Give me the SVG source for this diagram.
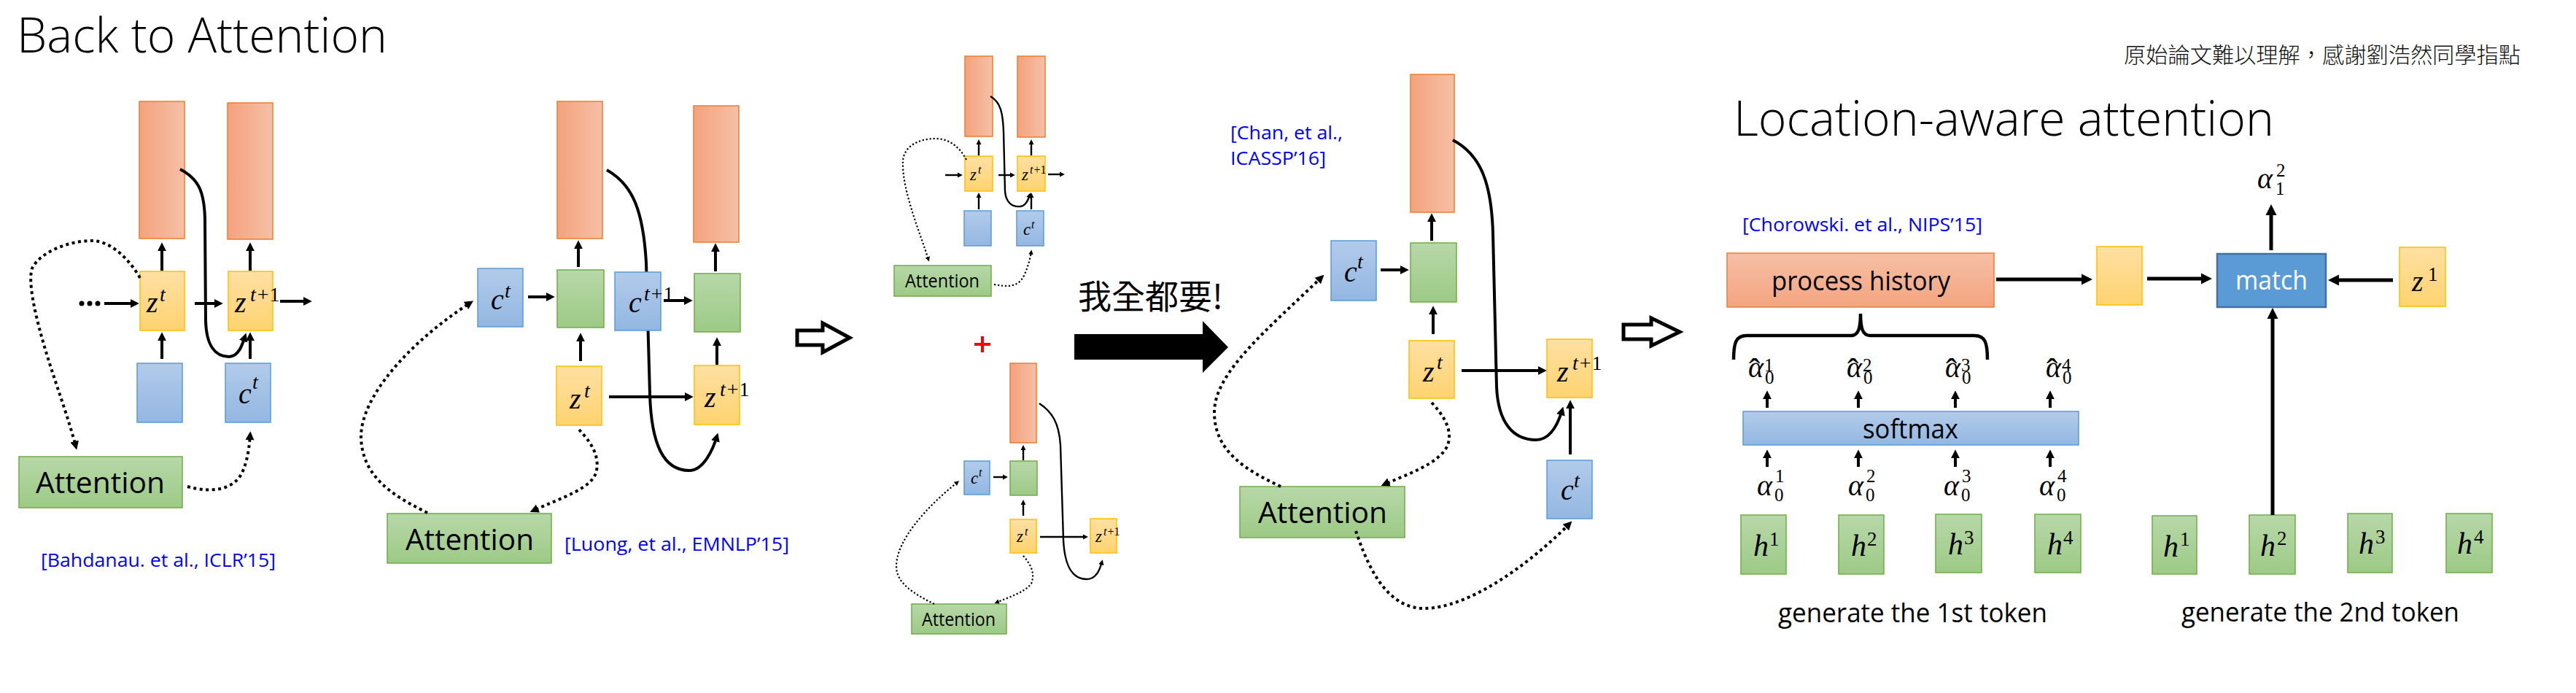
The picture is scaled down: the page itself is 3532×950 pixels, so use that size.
<svg xmlns="http://www.w3.org/2000/svg" width="3532" height="950" viewBox="0 0 3532 950">
<defs>
<linearGradient id="gOrH" x1="0" y1="0" x2="1" y2="0"><stop offset="0" stop-color="#F4A27E"/><stop offset="1" stop-color="#F6C0A6"/></linearGradient>
<linearGradient id="gOrV" x1="0" y1="0" x2="0" y2="1"><stop offset="0" stop-color="#F6C0A6"/><stop offset="1" stop-color="#F4A47F"/></linearGradient>
<linearGradient id="gY" x1="0" y1="0" x2="0" y2="1"><stop offset="0" stop-color="#FFE0A3"/><stop offset="1" stop-color="#FFD370"/></linearGradient>
<linearGradient id="gB" x1="0" y1="0" x2="0" y2="1"><stop offset="0" stop-color="#B2CBEA"/><stop offset="1" stop-color="#93B7E2"/></linearGradient>
<linearGradient id="gG" x1="0" y1="0" x2="0" y2="1"><stop offset="0" stop-color="#B7D8A8"/><stop offset="1" stop-color="#9DCA86"/></linearGradient>
<marker id="ah" viewBox="0 0 10 10" refX="6" refY="5" markerWidth="3" markerHeight="3.4" markerUnits="strokeWidth" orient="auto"><path d="M0,0 L10,5 L0,10 z" fill="#000"/></marker>
</defs>
<style>
.or{fill:url(#gOrH);stroke:#ED7D31;stroke-width:1.5}
.orv{fill:url(#gOrV);stroke:#ED7D31;stroke-width:1.5}
.ye{fill:url(#gY);stroke:#FFC000;stroke-width:1.5}
.bl{fill:url(#gB);stroke:#5B9BD5;stroke-width:1.5}
.gr{fill:url(#gG);stroke:#70AD47;stroke-width:1.5}
.ln{fill:none;stroke:#000;stroke-width:4;marker-end:url(#ah)}
.lnb{fill:none;stroke:#000;stroke-width:5;marker-end:url(#ah)}
.lns{fill:none;stroke:#000;stroke-width:2.4;marker-end:url(#ah)}
.dt{fill:none;stroke:#000;stroke-width:4;stroke-dasharray:4 4.5;marker-end:url(#ah)}
.dts{fill:none;stroke:#000;stroke-width:2.2;stroke-dasharray:2.2 2.8;marker-end:url(#ah)}
.cv{fill:none;stroke:#000;stroke-width:4;marker-end:url(#ah)}
.cvs{fill:none;stroke:#000;stroke-width:2.4;marker-end:url(#ah)}
.sans{font-family:'Open Sans','Noto Sans','Liberation Sans',sans-serif;fill:#000}
.cjk{font-family:'Noto Sans CJK TC','Noto Sans CJK SC','Noto Sans CJK JP',sans-serif;fill:#000}
.cite{font-family:'Open Sans','Noto Sans','Liberation Sans',sans-serif;fill:#0000FF;font-size:26px}
.mi{font-family:'Liberation Serif','DejaVu Serif',serif;font-style:italic;fill:#000}
.mn{font-family:'Liberation Serif','DejaVu Serif',serif;font-style:normal;fill:#000}
.hat{font-style:normal;font-size:46px}
.dg{font-style:normal;font-size:25px}
.att{font-size:41px}
.atts{font-size:25px}
.L{font-size:40px}
.S{font-size:28px}
.Ls{font-size:23px}
.Ss{font-size:16px}
.d{font-size:25px}
</style>
<rect width="3532" height="950" fill="#fff"/>

<!-- titles and notes -->
<g id="title1"><text class="sans" x="23" y="72" font-size="66" font-weight="300" textLength="508" lengthAdjust="spacingAndGlyphs">Back to Attention</text></g>
<g id="title2"><text class="sans" x="2377" y="186" font-size="66" font-weight="300" textLength="741" lengthAdjust="spacingAndGlyphs">Location-aware attention</text></g>
<g id="note"><text class="cjk" x="2912" y="86" font-size="30" font-weight="300" style="fill:#111" textLength="544" lengthAdjust="spacingAndGlyphs">原始論文難以理解，感謝劉浩然同學指點</text></g>

<!-- ===== Section 1: Bahdanau ===== -->
<g id="s1_or1"><rect class="or" x="191" y="139" width="62" height="188"/></g>
<g id="s1_or2"><rect class="or" x="312" y="141" width="62" height="187"/></g>
<g id="s1_z1"><rect class="ye" x="192" y="372" width="61" height="81"/><text class="mi L" x="201" y="428">z</text><text class="mi S" x="219" y="413">t</text></g>
<g id="s1_z2"><rect class="ye" x="313" y="372" width="61" height="81"/><text class="mi L" x="322" y="428">z</text><text class="mn S" x="343" y="413"><tspan font-style="italic">t</tspan><tspan dx="2">+</tspan><tspan dx="1">1</tspan></text></g>
<g id="s1_b1"><rect class="bl" x="188" y="498" width="62" height="81"/></g>
<g id="s1_c"><rect class="bl" x="309" y="498" width="62" height="81"/><text class="mi L" x="327" y="553">c</text><text class="mi S" x="346" y="533">t</text></g>
<g id="s1_att"><rect class="gr" x="26" y="626" width="224" height="70"/><text class="sans att" x="49" y="676" textLength="177" lengthAdjust="spacingAndGlyphs">Attention</text></g>
<g id="s1_cite"><text class="cite" x="56" y="777" textLength="322" lengthAdjust="spacingAndGlyphs">[Bahdanau. et al., ICLR’15]</text></g>

<!-- ===== Section 2: Luong ===== -->
<g id="s2_or1"><rect class="or" x="764" y="139" width="62" height="188"/></g>
<g id="s2_or2"><rect class="or" x="951" y="145" width="62" height="187"/></g>
<g id="s2_c"><rect class="bl" x="655" y="368" width="62" height="80"/><text class="mi L" x="673" y="424">c</text><text class="mi S" x="692" y="408">t</text></g>
<g id="s2_g1"><rect class="gr" x="764" y="370" width="64" height="79"/></g>
<g id="s2_g2"><rect class="gr" x="952" y="375" width="63" height="80"/></g>
<g id="s2_z"><rect class="ye" x="763" y="502" width="62" height="81"/><text class="mi L" x="781" y="560">z</text><text class="mi S" x="801" y="545">t</text></g>
<g id="s2_z2"><rect class="ye" x="952" y="501" width="62" height="81"/><text class="mi L" x="966" y="558">z</text><text class="mn S" x="987" y="543"><tspan font-style="italic">t</tspan><tspan dx="2">+</tspan><tspan dx="1">1</tspan></text></g>
<g id="s2_att"><rect class="gr" x="531" y="704" width="225" height="68"/><text class="sans att" x="556" y="754" textLength="176" lengthAdjust="spacingAndGlyphs">Attention</text></g>
<g id="s2_cite"><text class="cite" x="774" y="755" textLength="308" lengthAdjust="spacingAndGlyphs">[Luong, et al., EMNLP’15]</text></g>

<g id="hollow1"><polygon points="1093,453 1128,453 1128,443 1165,463 1128,483 1128,473 1093,473" fill="#fff" stroke="#000" stroke-width="5" stroke-linejoin="miter"/></g>

<!-- ===== Section 3: small diagrams ===== -->
<g id="s3a_or1"><rect class="or" x="1323" y="77" width="38" height="110"/></g>
<g id="s3a_or2"><rect class="or" x="1395" y="77" width="38" height="111"/></g>
<g id="s3a_z"><rect class="ye" x="1323" y="214" width="38" height="48"/><text class="mi Ls" x="1330" y="247">z</text><text class="mi Ss" x="1341" y="238">t</text></g>
<g id="s3a_z2"><rect class="ye" x="1395" y="214" width="38" height="48"/><text class="mi Ls" x="1401" y="247">z</text><text class="mn Ss" x="1412" y="238"><tspan font-style="italic">t</tspan><tspan dx="1">+</tspan>1</text></g>
<g id="s3a_b"><rect class="bl" x="1322" y="289" width="37" height="48"/></g>
<g id="s3a_c"><rect class="bl" x="1394" y="289" width="37" height="48"/><text class="mi Ls" x="1403" y="322">c</text><text class="mi Ss" x="1414" y="313">t</text></g>
<g id="s3a_att"><rect class="gr" x="1226" y="364" width="133" height="42"/><text class="sans atts" x="1241" y="394" textLength="102" lengthAdjust="spacingAndGlyphs">Attention</text></g>

<g id="plus"><path d="M1336 472 H1358 M1347 461 V483" stroke="#FF0000" stroke-width="4" fill="none"/></g>
<g id="want"><text class="cjk" x="1478" y="423" font-size="46">我全都要!</text></g>
<g id="bigarrow"><polygon points="1473,458 1649,458 1649,440 1684,476 1649,511 1649,493 1473,493" fill="#000"/></g>

<g id="s3b_or"><rect class="or" x="1385" y="498" width="36" height="109"/></g>
<g id="s3b_c"><rect class="bl" x="1322" y="632" width="35" height="46"/><text class="mi Ls" x="1331" y="663">c</text><text class="mi Ss" x="1342" y="653">t</text></g>
<g id="s3b_g"><rect class="gr" x="1385" y="632" width="37" height="47"/></g>
<g id="s3b_z"><rect class="ye" x="1385" y="712" width="36" height="46"/><text class="mi Ls" x="1394" y="743">z</text><text class="mi Ss" x="1405" y="734">t</text></g>
<g id="s3b_z2"><rect class="ye" x="1495" y="711" width="36" height="47"/><text class="mi Ls" x="1502" y="743">z</text><text class="mn Ss" x="1513" y="734"><tspan font-style="italic">t</tspan><tspan dx="1">+</tspan>1</text></g>
<g id="s3b_att"><rect class="gr" x="1250" y="828" width="130" height="41"/><text class="sans atts" x="1264" y="858" textLength="101" lengthAdjust="spacingAndGlyphs">Attention</text></g>

<!-- ===== Section 4: Chan ===== -->
<g id="s4_cite"><text class="cite" x="1687" y="191" textLength="154" lengthAdjust="spacingAndGlyphs">[Chan, et al.,</text><text class="cite" x="1687" y="226" textLength="131" lengthAdjust="spacingAndGlyphs">ICASSP’16]</text></g>
<g id="s4_or"><rect class="or" x="1934" y="102" width="60" height="189"/></g>
<g id="s4_c"><rect class="bl" x="1825" y="330" width="62" height="82"/><text class="mi L" x="1843" y="386">c</text><text class="mi S" x="1861" y="368">t</text></g>
<g id="s4_g"><rect class="gr" x="1934" y="333" width="63" height="81"/></g>
<g id="s4_z"><rect class="ye" x="1932" y="467" width="62" height="79"/><text class="mi L" x="1951" y="523">z</text><text class="mi S" x="1970" y="506">t</text></g>
<g id="s4_z2"><rect class="ye" x="2121" y="465" width="62" height="80"/><text class="mi L" x="2135" y="523">z</text><text class="mn S" x="2156" y="507"><tspan font-style="italic">t</tspan><tspan dx="2">+</tspan><tspan dx="1">1</tspan></text></g>
<g id="s4_c2"><rect class="bl" x="2121" y="631" width="62" height="80"/><text class="mi L" x="2140" y="685">c</text><text class="mi S" x="2158" y="668">t</text></g>
<g id="s4_att"><rect class="gr" x="1700" y="667" width="226" height="70"/><text class="sans att" x="1725" y="717" textLength="177" lengthAdjust="spacingAndGlyphs">Attention</text></g>

<g id="hollow2"><polygon points="2226,445 2264,445 2264,436 2303,455 2264,474 2264,465 2226,465" fill="#fff" stroke="#000" stroke-width="5"/></g>

<!-- ===== Section 5: Location-aware ===== -->
<g id="s5_cite"><text class="cite" x="2389" y="317" textLength="329" lengthAdjust="spacingAndGlyphs">[Chorowski. et al., NIPS’15]</text></g>
<g id="s5_ph"><rect class="orv" x="2368" y="347" width="366" height="74"/><text class="sans" x="2429" y="398" font-size="36" textLength="245" lengthAdjust="spacingAndGlyphs">process history</text></g>
<g id="s5_brace"><path d="M2377 493 C2377 470 2380 460 2395 460 L2538 460 C2548 460 2551 450 2551 430 C2551 450 2554 460 2564 460 L2707 460 C2722 460 2725 470 2725 493" fill="none" stroke="#000" stroke-width="4.5"/></g>
<g id="s5_ahat1"><text class="mi L" x="2397" y="517">α<tspan class="hat" x="2398" y="524">ˆ</tspan><tspan class="dg" x="2419" y="509">1</tspan><tspan class="dg" x="2420" y="526">0</tspan></text></g>
<g id="s5_ahat2"><text class="mi L" x="2532" y="517">α<tspan class="hat" x="2533" y="524">ˆ</tspan><tspan class="dg" x="2554" y="509">2</tspan><tspan class="dg" x="2555" y="526">0</tspan></text></g>
<g id="s5_ahat3"><text class="mi L" x="2667" y="517">α<tspan class="hat" x="2668" y="524">ˆ</tspan><tspan class="dg" x="2689" y="509">3</tspan><tspan class="dg" x="2690" y="526">0</tspan></text></g>
<g id="s5_ahat4"><text class="mi L" x="2805" y="517">α<tspan class="hat" x="2806" y="524">ˆ</tspan><tspan class="dg" x="2827" y="509">4</tspan><tspan class="dg" x="2828" y="526">0</tspan></text></g>
<g id="s5_softmax"><rect class="bl" x="2390" y="564" width="460" height="46"/><text class="sans" x="2554" y="601" font-size="36" textLength="131" lengthAdjust="spacingAndGlyphs">softmax</text></g>
<g id="s5_a1"><text class="mi L" x="2409" y="679">α<tspan class="dg" x="2434" y="661">1</tspan><tspan class="dg" x="2433" y="687">0</tspan></text></g>
<g id="s5_a2"><text class="mi L" x="2534" y="679">α<tspan class="dg" x="2559" y="661">2</tspan><tspan class="dg" x="2558" y="687">0</tspan></text></g>
<g id="s5_a3"><text class="mi L" x="2665" y="679">α<tspan class="dg" x="2690" y="661">3</tspan><tspan class="dg" x="2689" y="687">0</tspan></text></g>
<g id="s5_a4"><text class="mi L" x="2796" y="679">α<tspan class="dg" x="2821" y="661">4</tspan><tspan class="dg" x="2820" y="687">0</tspan></text></g>
<g id="s5_h1"><rect class="gr" x="2387" y="706" width="62" height="81"/><text class="mi" font-size="42" x="2404" y="762">h</text><text class="mn" font-size="27" x="2426" y="748">1</text></g>
<g id="s5_h2"><rect class="gr" x="2521" y="706" width="62" height="81"/><text class="mi" font-size="42" x="2538" y="762">h</text><text class="mn" font-size="27" x="2560" y="748">2</text></g>
<g id="s5_h3"><rect class="gr" x="2654" y="705" width="63" height="80"/><text class="mi" font-size="42" x="2671" y="760">h</text><text class="mn" font-size="27" x="2693" y="746">3</text></g>
<g id="s5_h4"><rect class="gr" x="2790" y="705" width="63" height="80"/><text class="mi" font-size="42" x="2807" y="760">h</text><text class="mn" font-size="27" x="2829" y="746">4</text></g>
<g id="s5_gen1"><text class="sans" x="2438" y="853" font-size="36" textLength="369" lengthAdjust="spacingAndGlyphs">generate the 1st token</text></g>
<g id="s5_y"><rect class="ye" x="2875" y="338" width="62" height="80"/></g>
<g id="s5_match"><rect x="3040" y="348" width="149" height="73" fill="#5B9BD5" stroke="#41719C" stroke-width="2.5"/><text class="sans" x="3065" y="397" font-size="36" style="fill:#fff" textLength="99" lengthAdjust="spacingAndGlyphs">match</text></g>
<g id="s5_z1"><rect class="ye" x="3290" y="339" width="63" height="81"/><text class="mi L" x="3307" y="399">z</text><text class="mn" font-size="27" x="3329" y="385">1</text></g>
<g id="s5_alpha12"><text class="mi L" x="3095" y="258">α<tspan class="dg" x="3121" y="242">2</tspan><tspan class="dg" x="3120" y="267">1</tspan></text></g>
<g id="s5_k1"><rect class="gr" x="2951" y="707" width="61" height="80"/><text class="mi" font-size="42" x="2966" y="763">h</text><text class="mn" font-size="27" x="2989" y="748">1</text></g>
<g id="s5_k2"><rect class="gr" x="3084" y="706" width="63" height="81"/><text class="mi" font-size="42" x="3099" y="762">h</text><text class="mn" font-size="27" x="3122" y="747">2</text></g>
<g id="s5_k3"><rect class="gr" x="3219" y="704" width="61" height="81"/><text class="mi" font-size="42" x="3234" y="759">h</text><text class="mn" font-size="27" x="3257" y="745">3</text></g>
<g id="s5_k4"><rect class="gr" x="3354" y="704" width="63" height="81"/><text class="mi" font-size="42" x="3369" y="759">h</text><text class="mn" font-size="27" x="3392" y="745">4</text></g>
<g id="s5_gen2"><text class="sans" x="2991" y="852" font-size="36" textLength="381" lengthAdjust="spacingAndGlyphs">generate the 2nd token</text></g>

<!-- ===== Connectors ===== -->
<g id="connectors">
<!-- section 1 -->
<circle cx="112" cy="416" r="3.5"/><circle cx="123" cy="416" r="3.5"/><circle cx="134" cy="416" r="3.5"/>
<path class="ln" d="M143 416 L186 416"/>
<path class="ln" d="M267 416 L301 416"/>
<path class="ln" d="M384 413 L423 413"/>
<path class="ln" d="M222 371 L222 337"/>
<path class="ln" d="M222 492 L222 460"/>
<path class="ln" d="M343 371 L343 337"/>
<path class="ln" d="M343 492 L343 460"/>
<path class="cv" d="M247 232 C272 245 280 262 281 300 L282 440 C283 475 296 489 314 489 C328 489 333 470 336 461"/>
<path class="dt" d="M192 381 C175 352 150 330 126 330 C95 330 55 345 44 368 C38 385 48 430 58 465 C72 515 90 560 104 612"/>
<path class="dt" d="M257 667 C290 676 320 672 332 648 C340 630 342 610 343 596"/>
<!-- section 2 -->
<path class="ln" d="M724 407 L756 407"/>
<path class="ln" d="M793 366 L793 334"/>
<path class="ln" d="M796 495 L796 461"/>
<path class="ln" d="M910 412 L945 412"/>
<path class="ln" d="M981 372 L981 338"/>
<path class="ln" d="M983 500 L983 467"/>
<path class="ln" d="M835 544 L946 544"/>
<path class="cv" d="M832 233 C868 253 882 290 886 360 L891 540 C893 610 910 645 945 645 C965 645 978 615 983 598"/>
<path class="dt" d="M794 589 C808 604 822 622 818 645 C813 670 770 682 731 700"/>
<path class="dt" d="M586 703 C540 680 497 655 495 600 C494 545 560 470 645 415"/>
<!-- section 3 top -->
<path class="lns" d="M1296 240 L1317 240"/>
<path class="lns" d="M1369 240 L1389 240"/>
<path class="lns" d="M1437 239 L1457 239"/>
<path class="lns" d="M1342 213 L1342 194"/>
<path class="lns" d="M1342 287 L1342 267"/>
<path class="lns" d="M1414 213 L1414 194"/>
<path class="lns" d="M1414 287 L1414 267"/>
<path class="cvs" d="M1358 132 C1372 140 1375 155 1376 180 L1378 262 C1379 278 1388 284 1399 283 C1407 282 1410 273 1412 267"/>
<path class="dts" d="M1325 219 C1315 200 1300 190 1283 190 C1260 190 1240 200 1238 220 C1236 260 1262 320 1273 356"/>
<path class="dts" d="M1363 390 C1380 393 1395 395 1404 378 C1410 365 1413 352 1414 345"/>
<!-- section 3 bottom -->
<path class="lns" d="M1362 654 L1379 654"/>
<path class="lns" d="M1403 631 L1403 613"/>
<path class="lns" d="M1403 707 L1403 688"/>
<path class="lns" d="M1426 736 L1489 736"/>
<path class="cvs" d="M1425 553 C1443 565 1452 580 1454 610 L1458 740 C1460 780 1472 794 1490 794 C1503 794 1508 781 1511 770"/>
<path class="dts" d="M1403 762 C1412 772 1420 785 1414 800 C1405 812 1385 818 1366 826"/>
<path class="dts" d="M1281 828 C1255 815 1228 800 1229 775 C1230 740 1270 695 1313 661"/>
<!-- section 4 -->
<path class="ln" d="M1893 370 L1927 370"/>
<path class="ln" d="M1963 330 L1963 297"/>
<path class="ln" d="M1965 458 L1965 424"/>
<path class="ln" d="M2004 508 L2116 508"/>
<path class="ln" d="M2153 623 L2153 553"/>
<path class="cv" d="M1992 192 C2030 212 2045 250 2047 320 L2052 530 C2054 580 2075 603 2106 603 C2125 603 2136 582 2142 562"/>
<path class="dt" d="M1963 552 C1980 570 1992 590 1985 610 C1975 635 1930 650 1898 664"/>
<path class="dt" d="M1756 667 C1710 645 1665 620 1665 565 C1665 510 1740 450 1812 380"/>
<path class="dt" d="M1859 728 C1875 775 1900 834 1953 834 C2010 834 2090 780 2152 718"/>
<!-- section 5 -->
<path class="ln" d="M2423 559 L2423 540"/>
<path class="ln" d="M2548 559 L2548 540"/>
<path class="ln" d="M2681 559 L2681 540"/>
<path class="ln" d="M2811 559 L2811 540"/>
<path class="ln" d="M2423 640 L2423 621"/>
<path class="ln" d="M2548 640 L2548 621"/>
<path class="ln" d="M2681 640 L2681 621"/>
<path class="ln" d="M2811 640 L2811 621"/>
<path class="lnb" d="M2737 383 L2863 383"/>
<path class="lnb" d="M2944 382 L3027 382"/>
<path class="lnb" d="M3281 384 L3198 384"/>
<path class="lnb" d="M3114 343 L3114 286"/>
<path class="lnb" d="M3116 706 L3116 428"/>
</g>

<!-- box drawn over the Luong curve -->
<g id="s2_c2"><rect class="bl" x="843" y="373" width="63" height="80"/><text class="mi L" x="862" y="428">c</text><text class="mn S" x="883" y="412"><tspan font-style="italic">t</tspan><tspan dx="2">+</tspan><tspan dx="1">1</tspan></text></g>
</svg>
